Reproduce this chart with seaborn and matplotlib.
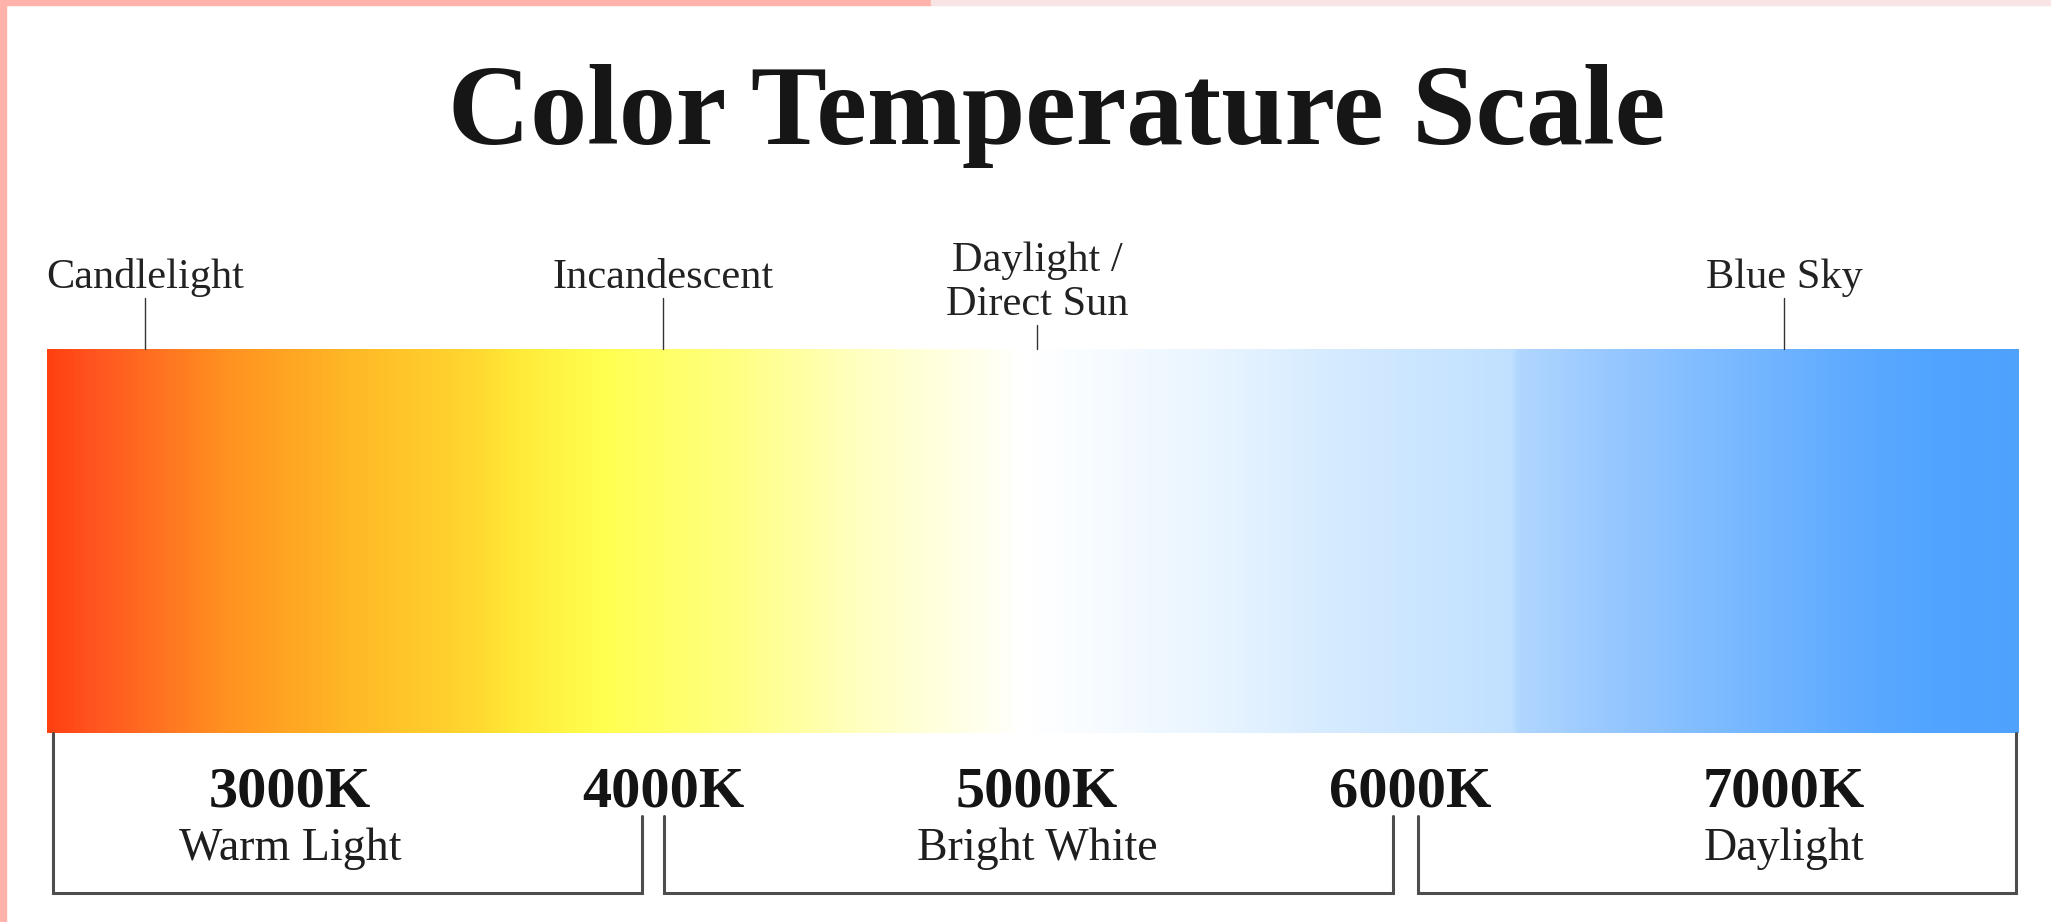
import numpy as np
import matplotlib
matplotlib.use("Agg")
import matplotlib.pyplot as plt
from matplotlib.colors import LinearSegmentedColormap
from matplotlib.patches import Rectangle
import seaborn as sns

# gradient stops along the bar (Kelvin -> colour)
stop_k = [2350, 2480, 2820, 3160, 3500, 3590, 3840, 4180, 4520, 4870, 4960,
          5080, 5440, 5800, 6270, 6290, 6520, 6870, 7230, 7410, 7630]
stop_colors = ['#ff4010', '#ff5520', '#ff9020', '#ffb825', '#ffd830', '#ffe835',
               '#ffff50', '#ffff80', '#ffffc0', '#fffff0', '#ffffff', '#fafdff',
               '#eaf5ff', '#d4eaff', '#c0e0ff', '#b0d6ff', '#98c8ff', '#78b8ff',
               '#5aa8ff', '#50a4ff', '#4ea2fc']

# light sources marked above the bar
sources = ['Candlelight', 'Incandescent', 'Daylight /\nDirect Sun', 'Blue Sky']
source_k = [2612, 4000, 5000, 7000]

# temperature labels under the bar
temps = [3000, 4000, 5000, 6000, 7000]
temp_labels = ['3000K', '4000K', '5000K', '6000K', '7000K']

# brackets under the bar
ranges = ['Warm Light', 'Bright White', 'Daylight']
range_center = [3000, 5000, 7000]
range_start = [2366, 4001, 6020]
range_end = [3942, 5953, 7621]

sns.set_theme(style='white')
plt.rcParams['font.family'] = ['Liberation Serif', 'DejaVu Serif']

W, H = 2051, 922
fig = plt.figure(figsize=(W / 100, H / 100), dpi=100)
fig.patch.set_facecolor('white')

# x of the whole figure expressed in Kelvin
k_left, k_right = 2224, 7715
def kx(k):
    return (k - k_left) / (k_right - k_left)

# gradient bar drawn as a one-row heatmap
k_min, k_max = stop_k[0], stop_k[-1]
cmap = LinearSegmentedColormap.from_list(
    'ct', [((k - k_min) / (k_max - k_min), c) for k, c in zip(stop_k, stop_colors)], N=1024)
bar_values = np.arange(k_min, k_max, 5).reshape(1, -1)

bar_top, bar_bottom = 349, 733
bar_ax = fig.add_axes([kx(k_min), 1 - bar_bottom / H,
                       kx(k_max) - kx(k_min), (bar_bottom - bar_top) / H])
sns.heatmap(bar_values, cmap=cmap, vmin=k_min, vmax=k_max, cbar=False,
            xticklabels=False, yticklabels=False, ax=bar_ax)

# overlay axes for text and lines: x in Kelvin, y in pixels from the top
ax = fig.add_axes([0, 0, 1, 1])
ax.set_xlim(k_left, k_right)
ax.set_ylim(H, 0)
ax.axis('off')
ax.patch.set_alpha(0)

ax.text(0.5150, 1 - 144 / H, 'Color Temperature Scale', transform=ax.transAxes,
        ha='center', va='baseline', fontsize=82, fontweight='bold', color='#161616')

for name, k in zip(sources, source_k):
    top = 325 if '\n' in name else 298
    ax.plot([k, k], [top, bar_top], color='#333333', lw=1.0)
    ax.text(k, top - 1, name, ha='center', va='bottom', fontsize=30.5,
            color='#222222', linespacing=1.2)

for k, lab in zip(temps, temp_labels):
    ax.text(k, 806, lab, ha='center', va='baseline', fontsize=42,
            fontweight='bold', color='#141414')

bracket_bottom, inner_top = 893, 816
for i, (name, c, k0, k1) in enumerate(zip(ranges, range_center, range_start, range_end)):
    left_top = bar_bottom if i == 0 else inner_top
    right_top = bar_bottom if i == len(ranges) - 1 else inner_top
    ax.plot([k0, k0, k1, k1], [left_top, bracket_bottom, bracket_bottom, right_top],
            color='#4d4d4d', lw=2.2, solid_joinstyle='miter')
    ax.text(c, 860, name, ha='center', va='baseline', fontsize=33, color='#1e1e1e')

# pink frame strips at the top and left edge
fig.patches.append(Rectangle((0, 1 - 5 / H), 931 / W, 5 / H, transform=fig.transFigure,
                             color='#ffb3aa', zorder=10))
fig.patches.append(Rectangle((931 / W, 1 - 5 / H), 1 - 931 / W, 5 / H,
                             transform=fig.transFigure, color='#f8e4e4', zorder=10))
fig.patches.append(Rectangle((0, 0), 6 / W, 1, transform=fig.transFigure,
                             color='#ffb3aa', zorder=10))

fig.savefig('out.png', dpi=100)
